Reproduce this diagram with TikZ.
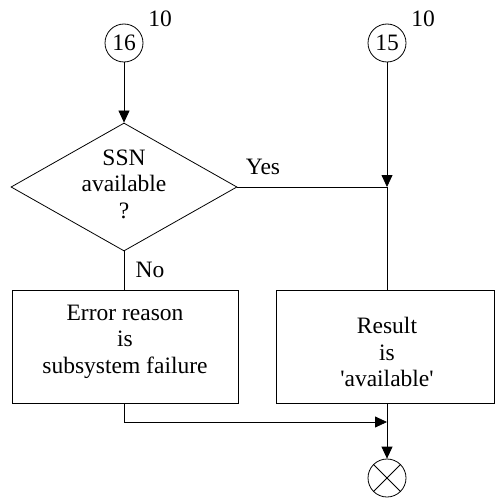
\documentclass[tikz,border=0pt]{standalone}
\usepackage{fontspec}
\setmainfont{Liberation Serif}
\usetikzlibrary{arrows.meta,shapes.geometric}
\begin{document}
\begin{tikzpicture}[x=1pt,y=-1pt,
  line width=0.8pt,
  every node/.style={font=\fontsize{23.5}{26.5}\selectfont},
  conn/.style={circle,draw,minimum size=38pt,inner sep=0pt},
  decision/.style={diamond,draw,minimum width=226pt,minimum height=128pt,inner sep=0pt},
  action/.style={draw,rectangle,inner sep=0pt},
  txt/.style={align=center,inner sep=0pt},
  arr/.style={-{Triangle[length=12pt,width=11pt]}}]
\useasboundingbox (0,0) rectangle (496,500);
\node[conn] (c16) at (124,43) {16};
\node (l16) at (160,19) {10};
\node[conn] (c15) at (387,43) {15};
\node (l15) at (423,19) {10};
\node[decision] (dec) at (124,187) {};
\node[txt] (dect) at (124,184) {SSN\\available\\?};
\node[action,minimum width=226pt,minimum height=113pt] (err) at (125,346.5) {};
\node[txt] (errt) at (125,341.5) {Error reason\\is\\subsystem failure};
\node[action,minimum width=218pt,minimum height=113pt] (res) at (385,346.5) {};
\node[txt] (rest) at (387,352) {Result\\is\\\textquotesingle available\textquotesingle};
\node[circle,draw,minimum size=38pt,inner sep=0pt] (end) at (387,478) {};
\draw (end.45) -- (end.225) (end.135) -- (end.315);
\coordinate (j1) at (387,187);
\coordinate (j2) at (387,422);
\coordinate (e1) at (124,422);
\node (yes) at (263,167) {Yes};
\node (no) at (150,270) {No};
\draw[arr] (c16) -- (dec.north);
\draw[arr] (c15) -- (j1);
\draw (dec.east) -- (j1) -- (j1 |- res.north);
\draw (dec.south) -- (dec.south |- err.north);
\draw[arr] (err.south -| e1) -- (e1) -- (j2);
\draw[arr] (j2 |- res.south) -- (end);
\end{tikzpicture}
\end{document}
